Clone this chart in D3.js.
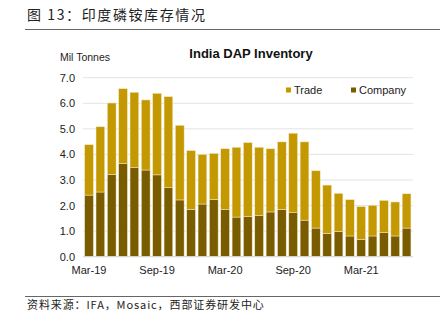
<!DOCTYPE html>
<html>
<head>
<meta charset="utf-8">
<script src="https://cdn.jsdelivr.net/npm/d3@7"></script>
<style>
  body { margin: 0; background: #fff; }
  svg { display: block; }
</style>
</head>
<body>
<div id="chart"></div>
<script>
// months Mar-19 .. Jul-21
const months = ['Mar-19','Apr-19','May-19','Jun-19','Jul-19','Aug-19','Sep-19','Oct-19','Nov-19','Dec-19',
    'Jan-20','Feb-20','Mar-20','Apr-20','May-20','Jun-20','Jul-20','Aug-20','Sep-20','Oct-20',
    'Nov-20','Dec-20','Jan-21','Feb-21','Mar-21','Apr-21','May-21','Jun-21','Jul-21'];
const company = [2.41, 2.53, 3.21, 3.64, 3.48, 3.39, 3.20, 2.70, 2.22, 1.85,
    2.06, 2.24, 1.84, 1.55, 1.57, 1.61, 1.75, 1.85, 1.72, 1.43,
    1.12, 0.91, 0.99, 0.81, 0.68, 0.81, 0.94, 0.81, 1.12];
const total = [4.38, 5.08, 6.01, 6.57, 6.43, 6.13, 6.39, 6.26, 5.14, 4.15,
    4.00, 4.04, 4.22, 4.28, 4.46, 4.28, 4.22, 4.49, 4.83, 4.49,
    3.36, 2.80, 2.48, 2.23, 1.96, 2.01, 2.20, 2.14, 2.46];
const trade = total.map((t, i) => +(t - company[i]).toFixed(2));
const xTickLabels = ['Mar-19', 'Sep-19', 'Mar-20', 'Sep-20', 'Mar-21'];
const yTicks = [0, 1, 2, 3, 4, 5, 6, 7];

const colTrade = '#c39800';
const colCompany = '#7a5c00';

let W = 443, H = 325;
let svg = d3.select('#chart').append('svg')
    .attr('width', W)
    .attr('height', H);

// header
svg.append('text')
    .text('图 13：印度磷铵库存情况')
    .attr('x', 27)
    .attr('y', 20)
    .style('font-family', '"Noto Sans CJK SC", sans-serif')
    .style('font-size', '14px')
    .style('letter-spacing', '1.6px')
    .style('fill', '#222');
svg.append('line')
    .attr('x1', 25).attr('x2', 440)
    .attr('y1', 29.5).attr('y2', 29.5)
    .attr('stroke', '#666').attr('stroke-width', 1);

// footer
svg.append('line')
    .attr('x1', 25).attr('x2', 440)
    .attr('y1', 296.5).attr('y2', 296.5)
    .attr('stroke', '#666').attr('stroke-width', 1);
svg.append('text')
    .text('资料来源：IFA，Mosaic，西部证券研发中心')
    .attr('x', 27)
    .attr('y', 309)
    .style('font-family', '"Noto Sans CJK SC", sans-serif')
    .style('font-size', '11px')
    .style('letter-spacing', '0.9px')
    .style('fill', '#222');

let x = d3.scaleBand()
    .domain(months)
    .range([83.3, 412.3])
    .paddingInner(0.23)
    .paddingOuter(0.12);

let y = d3.scaleLinear()
    .domain([0, 7])
    .range([256.7, 77.7]);

// gridlines
svg.append('g')
    .selectAll('line')
    .data(yTicks)
    .enter()
    .append('line')
    .attr('x1', 83).attr('x2', 413)
    .attr('y1', d => y(d)).attr('y2', d => y(d))
    .attr('stroke', '#e3e3e3')
    .attr('stroke-width', 1);

// y tick labels
svg.append('g')
    .selectAll('text')
    .data(yTicks)
    .enter()
    .append('text')
    .text(d => d.toFixed(1))
    .attr('x', 75)
    .attr('y', d => y(d) + 4)
    .attr('text-anchor', 'end')
    .style('font-family', '"Liberation Sans", Arial, sans-serif')
    .style('font-size', '11px')
    .style('fill', '#222');

svg.append('text')
    .text('Mil Tonnes')
    .attr('x', 60)
    .attr('y', 61)
    .style('font-family', '"Liberation Sans", Arial, sans-serif')
    .style('font-size', '10.5px')
    .style('fill', '#222');

svg.append('text')
    .text('India DAP Inventory')
    .attr('x', 251)
    .attr('y', 58)
    .attr('text-anchor', 'middle')
    .style('font-family', '"Liberation Sans", Arial, sans-serif')
    .style('font-weight', 'bold')
    .style('font-size', '13px')
    .style('fill', '#111');

// stacked bars
let stack = d3.stack().keys(['company', 'trade']);
let rows = months.map((m, i) => ({ month: m, company: company[i], trade: trade[i] }));
let series = stack(rows);
let colors = { company: colCompany, trade: colTrade };

svg.append('g')
    .selectAll('g')
    .data(series)
    .enter()
    .append('g')
    .attr('fill', d => colors[d.key])
    .selectAll('rect')
    .data(d => d)
    .enter()
    .append('rect')
    .attr('x', d => x(d.data.month))
    .attr('width', x.bandwidth())
    .attr('y', d => y(d[1]))
    .attr('height', d => y(d[0]) - y(d[1]))
    .attr('stroke', '#f3e9c8')
    .attr('stroke-width', 0.5);

// x axis baseline
svg.append('line')
    .attr('x1', 83).attr('x2', 413)
    .attr('y1', y(0)).attr('y2', y(0))
    .attr('stroke', '#d9d9d9');

svg.append('g')
    .selectAll('text')
    .data(xTickLabels)
    .enter()
    .append('text')
    .text(d => d)
    .attr('x', d => x(d) + x.bandwidth() / 2)
    .attr('y', 274)
    .attr('text-anchor', 'middle')
    .style('font-family', '"Liberation Sans", Arial, sans-serif')
    .style('font-size', '11px')
    .style('fill', '#222');

// legend
let legend = [{ name: 'Trade', c: colTrade, x: 286 }, { name: 'Company', c: colCompany, x: 351 }];
let lg = svg.append('g')
    .selectAll('g')
    .data(legend)
    .enter()
    .append('g');
lg.append('rect')
    .attr('x', d => d.x)
    .attr('y', 87.5)
    .attr('width', 5)
    .attr('height', 5)
    .attr('fill', d => d.c);
lg.append('text')
    .text(d => d.name)
    .attr('x', d => d.x + 8)
    .attr('y', 94)
    .style('font-family', '"Liberation Sans", Arial, sans-serif')
    .style('font-size', '11px')
    .style('fill', '#222');
</script>
</body>
</html>
